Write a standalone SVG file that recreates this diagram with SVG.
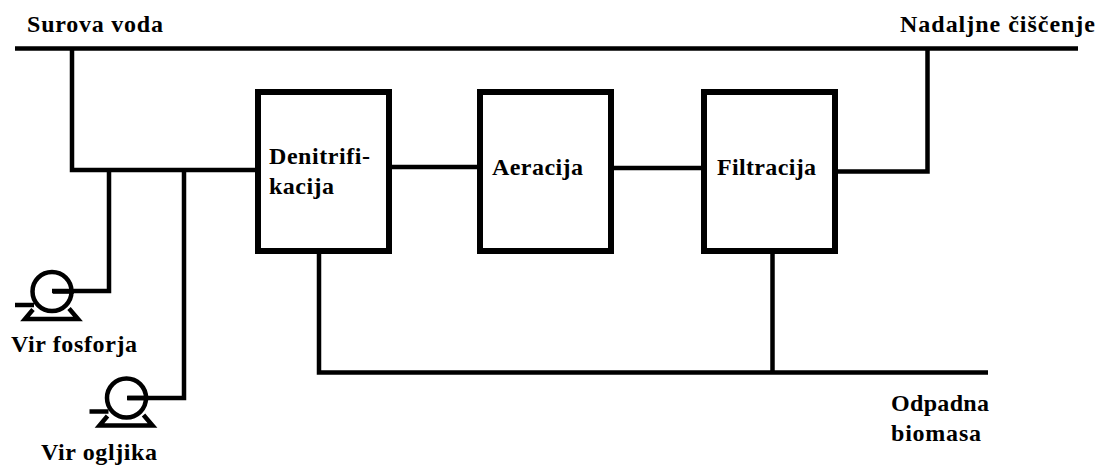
<svg xmlns="http://www.w3.org/2000/svg" width="1097" height="466" viewBox="0 0 1097 466">
<style>
.l{fill:none;stroke:#000;stroke-width:4.5}
.b{fill:#fff;stroke:#000;stroke-width:6}
.t{font:bold 24px "Liberation Serif",serif;fill:#000}
</style>
<defs>
<g id="pump" class="l">
<circle cx="0" cy="0" r="19.500"/>
<path d="M1 0H22"/>
<path d="M-37 13.500H-18"/>
<path d="M-19 18L-27 27.500H26L17 17"/>
</g>
</defs>
<rect width="1097" height="466" fill="#fff"/>
<g id="connectors" class="l">
<path d="M15 48.500H1078"/>
<path d="M72 48V170H257"/>
<path d="M109 170V291H52"/>
<path d="M184 170V398H127"/>
<path d="M390 167H480"/>
<path d="M612 168H704"/>
<path d="M836 171.500H927.500V48"/>
<path d="M319 252V372.500H988"/>
<path d="M772.500 252V372.500"/>
</g>
<g id="pump-fosfor"><use href="#pump" x="52" y="291.500"/></g>
<g id="pump-ogljik"><use href="#pump" x="126.500" y="398"/></g>
<g id="denitrifikacija"><rect class="b" x="258" y="92" width="131" height="159"/>
<text class="t" x="269" y="164" textLength="101">Denitrifi-</text><text class="t" x="269" y="194" textLength="65">kacija</text></g>
<g id="aeracija"><rect class="b" x="480" y="92" width="131" height="159"/>
<text class="t" x="492" y="175" textLength="91">Aeracija</text></g>
<g id="filtracija"><rect class="b" x="704" y="92" width="131" height="159"/>
<text class="t" x="717" y="175" textLength="99">Filtracija</text></g>
<g id="labels">
<text class="t" x="27" y="32" textLength="136">Surova voda</text>
<text class="t" x="900" y="32" textLength="195">Nadaljne čiščenje</text>
<text class="t" x="11" y="352" textLength="126">Vir fosforja</text>
<text class="t" x="41" y="460" textLength="116">Vir ogljika</text>
<text class="t" x="891" y="411" textLength="98">Odpadna</text>
<text class="t" x="891" y="441" textLength="90">biomasa</text>
</g>
</svg>
